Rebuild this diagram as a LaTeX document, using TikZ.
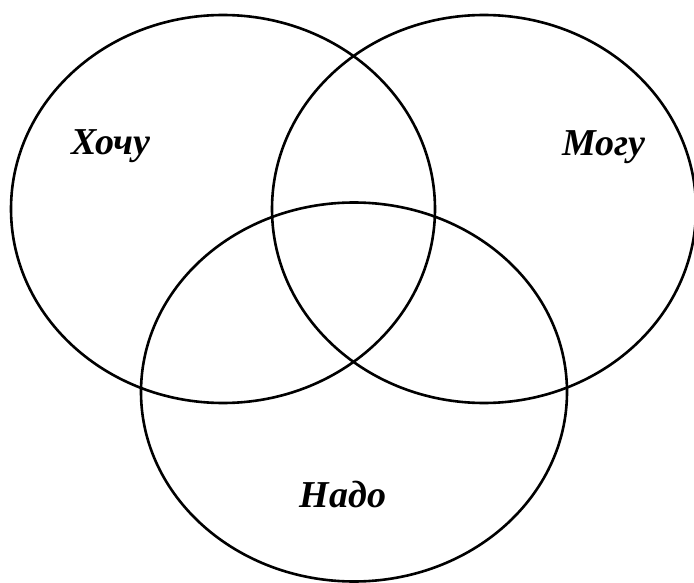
\documentclass[tikz,border=0pt]{standalone}
\usepackage{fontspec}
\setmainfont{Liberation Serif}
\usepackage{tikz}
\usetikzlibrary{positioning}
\tikzset{
  setring/.style={black,line width=2.6pt},
  setlabel/.style={font=\fontsize{38}{40}\selectfont\bfseries\itshape,inner sep=0pt,anchor=center}
}

\begin{document}
\begin{tikzpicture}[x=1pt,y=-1pt]
\clip (0,0) rectangle (694,583);
\useasboundingbox (0,0) rectangle (694,583);
\draw[setring] (223,209) ellipse [x radius=212,y radius=194];
\draw[setring] (484,209) ellipse [x radius=212,y radius=194];
\draw[setring] (354,392) ellipse [x radius=213,y radius=189.5];
\node[setlabel] (want) at (111,146) {Хочу};
\node[setlabel] (can) at (604,147) {Могу};
\node[setlabel] (need) at (343,495) {Надо};
\end{tikzpicture}
\end{document}
